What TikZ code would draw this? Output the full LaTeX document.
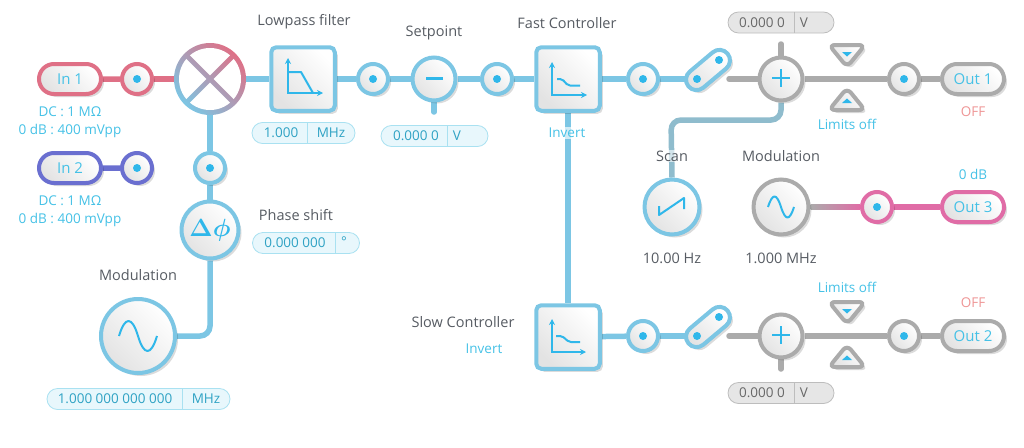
\documentclass[tikz,border=0pt]{standalone}
\usepackage{fontspec}
\setmainfont{Open Sans}
\usetikzlibrary{arrows.meta,backgrounds,calc,shadows,shapes.misc}
\definecolor{wireblue}{HTML}{7CC6E4}
\definecolor{wiregray}{HTML}{ABABAB}
\definecolor{wirered}{HTML}{DF7086}
\definecolor{wirepurple}{HTML}{6A6FD0}
\definecolor{wirepink}{HTML}{E06CA6}
\definecolor{wirescan}{HTML}{8FBCCD}
\definecolor{glyphblue}{HTML}{2FB7EA}
\definecolor{labelcyan}{HTML}{45C1E6}
\definecolor{labeldark}{HTML}{565B62}
\definecolor{labeloff}{HTML}{EE9595}
\definecolor{boxfill}{HTML}{E8F7FC}
\definecolor{boxline}{HTML}{A9E1F1}
\definecolor{boxtext}{HTML}{2FA2C4}
\definecolor{grayfill}{HTML}{E6E6E6}
\definecolor{grayline}{HTML}{BDBDBD}
\definecolor{graytext}{HTML}{686868}
\tikzset{
  bevel/.style={left color=white, right color=black!11, shading angle=-45,
    drop shadow={shadow xshift=3pt, shadow yshift=-3pt, fill=black, opacity=.14},
    drop shadow={shadow xshift=1pt, shadow yshift=-1.2pt, fill=#1!68!black, opacity=.9}},
  knob/.style={circle, inner sep=0, draw=#1, line width=4pt, bevel=#1},
  dotknob/.style={knob=#1, minimum size=30pt,
    path picture={\fill[glyphblue] (path picture bounding box.center) circle (4pt);}},
  pill/.style={rounded rectangle, inner sep=0, draw=#1, line width=4pt, bevel=#1,
    minimum width=62pt, minimum height=30pt, text=labelcyan, font=\fontsize{15}{16}\selectfont},
  block/.style={rectangle, rounded corners=5pt, inner sep=0, draw=wireblue, line width=4pt,
    bevel=wireblue, minimum size=63.5pt},
  valbox/.style={rounded rectangle, inner sep=0, draw=boxline, fill=boxfill, line width=.8pt,
    minimum height=21pt},
  grayvalbox/.style={valbox, draw=grayline, fill=grayfill},
  valtxt/.style={text=boxtext, inner sep=0},
  grayvaltxt/.style={text=graytext, inner sep=0},
  valsep/.style={draw=boxline, line width=.8pt},
  grayvalsep/.style={draw=grayline, line width=.8pt},
  wire/.style={draw=#1, line width=5.5pt},
  stub/.style={draw=#1, line width=5.5pt, line cap=round},
  title/.style={text=labeldark, inner sep=0, font=\fontsize{14.5}{16}\selectfont},
  info/.style={text=labelcyan, inner sep=0},
  glyph/.style={draw=glyphblue, line width=2pt, line join=round},
  axes/.style={draw=glyphblue, line width=1.5pt, {Stealth[length=6pt,width=6pt]}-{Stealth[length=6pt,width=6pt]}},
  limit/.style={draw=wiregray, line width=4pt, rounded corners=6pt, bevel=wiregray},
}
\begin{document}
\begin{tikzpicture}[x=1pt,y=-1pt,font=\fontsize{13.5}{16}\selectfont]
  \useasboundingbox (0,0) rectangle (1024,447);
  % inputs
  \node[pill=wirered] (in1) at (70,79) {In 1};
  \node[dotknob=wirered] (d1) at (137,79) {};
  \node[info] (in1a) at (70,112) {DC : 1 MΩ};
  \node[info] (in1b) at (70,131) {0 dB : 400 mVpp};
  \node[pill=wirepurple] (in2) at (70,168) {In 2};
  \node[dotknob=wirepurple] (d2) at (137,168) {};
  \node[info] (in2a) at (70,201) {DC : 1 MΩ};
  \node[info] (in2b) at (70,220) {0 dB : 400 mVpp};
  % mixer
  \node[circle, inner sep=0, minimum size=72pt, left color=wirered, right color=wireblue,
    shading angle=-45] (mixer) at (210,79) {};
  \begin{scope}
    \clip (mixer.center) circle (31pt);
    \begin{scope}[shift={(mixer.center)}, rotate=45]
      \fill[white] (2.6,2.6) rectangle (40,40);
      \fill[white] (-2.6,2.6) rectangle (-40,40);
      \fill[white] (2.6,-2.6) rectangle (40,-40);
      \fill[white] (-2.6,-2.6) rectangle (-40,-40);
    \end{scope}
  \end{scope}
  % modulation branch
  \node[dotknob=wireblue] (d3) at (210,168) {};
  \node[knob=wireblue, minimum size=57pt, text=glyphblue, font=\fontsize{25}{25}\selectfont\boldmath] (phase) at (210,230) {$\Delta\phi$};
  \node[title] (phasel) at (296,215) {Phase shift};
  \node[valbox, minimum width=107pt] (phasebox) at (306,243) {};
  \node[valtxt] (phasenum) at (295,243) {0.000 000};
  \node[valtxt] (phaseunit) at (344,242) {°};
  \draw[valsep] (335,232.5) -- (335,253.5);
  \node[title] (modl) at (138,275) {Modulation};
  \node[knob=wireblue, minimum size=74pt] (sine) at (138,336) {};
  \draw[glyph] (119,336) .. controls (125,316) and (132,316) .. (138,336) .. controls (144,356) and (151,356) .. (157,336);
  \node[valbox, minimum width=183pt] (sinebox) at (138.5,399) {};
  \node[valtxt] (sinenum) at (115,399) {1.000 000 000 000};
  \node[valtxt] (sineunit) at (206,399) {MHz};
  \draw[valsep] (182,388.5) -- (182,409.5);
  % lowpass
  \node[title] (lpfl) at (304,22) {Lowpass filter};
  \node[block] (lpf) at (303,79) {};
  \draw[axes] (288,58) -- (288,93) -- (323,93);
  \draw[glyph] (288,72) -- (301,72) -- (313,93);
  \node[valbox, minimum width=103pt] (lpfbox) at (303.5,133) {};
  \node[valtxt] (lpfnum) at (281,133) {1.000};
  \node[valtxt] (lpfunit) at (331,133) {MHz};
  \draw[valsep] (307,122.5) -- (307,143.5);
  \node[dotknob=wireblue] (d4) at (373,79) {};
  % setpoint
  \node[title] (setl) at (434,33) {Setpoint};
  \node[knob=wireblue, minimum size=43pt] (minus) at (434,79) {};
  \draw[glyph, line width=3pt] (426,78) -- (443,78);
  \coordinate (minusend) at (434,112);
  \node[valbox, minimum width=107pt] (setbox) at (434.5,136) {};
  \node[valtxt] (setnum) at (416,136) {0.000 0};
  \node[valtxt] (setunit) at (457,136) {V};
  \draw[valsep] (447,125.5) -- (447,146.5);
  \node[dotknob=wireblue] (d5) at (497,79) {};
  % fast controller
  \node[title] (fastl) at (567,23) {Fast Controller};
  \node[block] (fast) at (568,79) {};
  \draw[axes] (552,62) -- (552,95) -- (587,95);
  \draw[glyph, rounded corners=2pt] (557,79) -- (562,79) -- (568,85.5) -- (580,85.5);
  \node[dotknob=wireblue] (d6) at (643,79) {};
  \node[pill=wireblue, rotate=40, minimum width=51pt, minimum height=21pt] (sw1) at (708,70) {};
  \fill[glyphblue] (697,79) circle (4pt);
  \fill[glyphblue] (719,60) circle (4pt);
  % output 1
  \coordinate (gr1) at (729,79);
  \node[knob=wiregray, minimum size=43pt] (plus1) at (781,79) {};
  \draw[glyph, line width=2.4pt] (772,78) -- (790,78);
  \draw[glyph, line width=2.4pt] (781,69) -- (781,87);
  \coordinate (plus1end) at (781,44);
  \node[grayvalbox, minimum width=106pt] (of1box) at (781,22.5) {};
  \node[grayvaltxt] (of1num) at (762,22.5) {0.000 0};
  \node[grayvaltxt] (of1unit) at (804,22.5) {V};
  \draw[grayvalsep] (794,12) -- (794,33);
  \path[limit] (829,45) -- (865,45) -- (847,67) -- cycle;
  \fill[glyphblue] (842,52) -- (852,52) -- (847,56.5) -- cycle;
  \path[limit] (829,110) -- (865,110) -- (847,88) -- cycle;
  \fill[glyphblue] (842,103) -- (852,103) -- (847,98.5) -- cycle;
  \node[info] (lim1) at (847,124) {Limits off};
  \node[dotknob=wiregray] (d7) at (904,79) {};
  \node[pill=wiregray] (out1) at (973,79) {Out 1};
  \node[text=labeloff, inner sep=0] (off1) at (973,112) {OFF};
  % scan and second modulation
  \node[title, fill=white, fill opacity=.6, text opacity=1, inner sep=1pt] (scanl) at (672,156) {Scan};
  \node[knob=wireblue, minimum size=55pt] (scan) at (672,207) {};
  \draw[glyph] (659,206) -- (659,215) -- (684,198) -- (684,209);
  \node[title] (scanv) at (672,258) {10.00 Hz};
  \coordinate (sc1) at (671,120);
  \coordinate (sc2) at (781,120);
  \node[title] (mod2l) at (781,156) {Modulation};
  \node[knob=wiregray, minimum size=55pt] (mod2) at (781,207) {};
  \draw[glyph] (768,207) .. controls (772.5,193) and (776.5,193) .. (781,207) .. controls (785.5,221) and (789.5,221) .. (794,207);
  \node[title] (mod2v) at (781,258) {1.000 MHz};
  \node[dotknob=wirepink] (d8) at (877,207) {};
  \node[pill=wirepink] (out3) at (973,207) {Out 3};
  \node[info] (out3l) at (973,174) {0 dB};
  % slow controller
  \node[title] (slowl) at (463,322) {Slow Controller};
  \node[info] (slowi) at (484,349) {Invert};
  \node[block] (slow) at (568,337) {};
  \draw[axes] (552,319) -- (552,352) -- (586,352);
  \draw[glyph, rounded corners=2pt] (556,336) -- (562,336) -- (569,342) -- (580,342);
  \node[info, fill=white, fill opacity=.65, text opacity=1, inner sep=1pt] (fasti) at (567,133) {Invert};
  \node[dotknob=wireblue] (d9) at (643,336) {};
  \node[pill=wireblue, rotate=40, minimum width=51pt, minimum height=21pt] (sw2) at (708,327) {};
  \fill[glyphblue] (697,336) circle (4pt);
  \fill[glyphblue] (719,317) circle (4pt);
  % output 2
  \coordinate (gr2) at (729,336);
  \node[knob=wiregray, minimum size=43pt] (plus2) at (781,336) {};
  \draw[glyph, line width=2.4pt] (772,335) -- (790,335);
  \draw[glyph, line width=2.4pt] (781,326) -- (781,344);
  \coordinate (plus2end) at (781,369);
  \node[grayvalbox, minimum width=106pt] (of2box) at (781,393) {};
  \node[grayvaltxt] (of2num) at (762,393) {0.000 0};
  \node[grayvaltxt] (of2unit) at (804,393) {V};
  \draw[grayvalsep] (794,382.5) -- (794,403.5);
  \path[limit] (829,302) -- (865,302) -- (847,324) -- cycle;
  \fill[glyphblue] (842,309) -- (852,309) -- (847,313.5) -- cycle;
  \path[limit] (829,367) -- (865,367) -- (847,345) -- cycle;
  \fill[glyphblue] (842,360) -- (852,360) -- (847,355.5) -- cycle;
  \node[info] (lim2) at (847,287) {Limits off};
  \node[dotknob=wiregray] (d10) at (904,336) {};
  \node[pill=wiregray] (out2) at (973,336) {Out 2};
  \node[text=labeloff, inner sep=0] (off2) at (973,303) {OFF};
  % connectors
  \begin{pgfonlayer}{background}
    \draw[wire=wirered] (in1) -- (d1);
    \draw[wire=wirered] (d1) -- (mixer);
    \draw[wire=wirepurple] (in2) -- (d2);
    \draw[wire=wireblue] (mixer) -- (d3);
    \draw[wire=wireblue] (d3) -- (phase);
    \draw[wire=wireblue, rounded corners=10pt] (sine.east) -| (phase.south);
    \draw[wire=wireblue] (mixer) -- (lpf);
    \draw[wire=wireblue] (lpf) -- (d4);
    \draw[wire=wireblue] (d4) -- (minus);
    \draw[stub=wireblue] (minus) -- (minusend);
    \draw[wire=wireblue] (minus) -- (d5);
    \draw[wire=wireblue] (d5) -- (fast);
    \draw[wire=wireblue] (fast) -- (d6);
    \draw[wire=wireblue] (d6) -- (sw1.west |- d6);
    \draw[wire=wireblue] (fast) -- (slow);
    \draw[wire=wireblue] (slow) -- (d9);
    \draw[wire=wireblue] (d9) -- (sw2.west |- d9);
    \draw[stub=wiregray] (gr1) -- (plus1);
    \draw[stub=wiregray] (plus1) -- (plus1end);
    \draw[wire=wiregray] (plus1) -- (d7);
    \draw[wire=wiregray] (d7) -- (out1);
    \draw[wire=wirescan, rounded corners=10pt] (scan.north) -- (sc1) -- (sc2) -- (plus1.south);
    \draw[wire=wirepink] (mod2) -- (d8);
    \shade[left color=wiregray, right color=wirepink] ($(mod2.east)+(0,-2.75)$) rectangle ($(d8.west)+(0,2.75)$);
    \draw[wire=wirepink] (d8) -- (out3);
    \draw[stub=wiregray] (gr2) -- (plus2);
    \draw[stub=wiregray] (plus2) -- (plus2end);
    \draw[wire=wiregray] (plus2) -- (d10);
    \draw[wire=wiregray] (d10) -- (out2);
  \end{pgfonlayer}
\end{tikzpicture}
\end{document}
